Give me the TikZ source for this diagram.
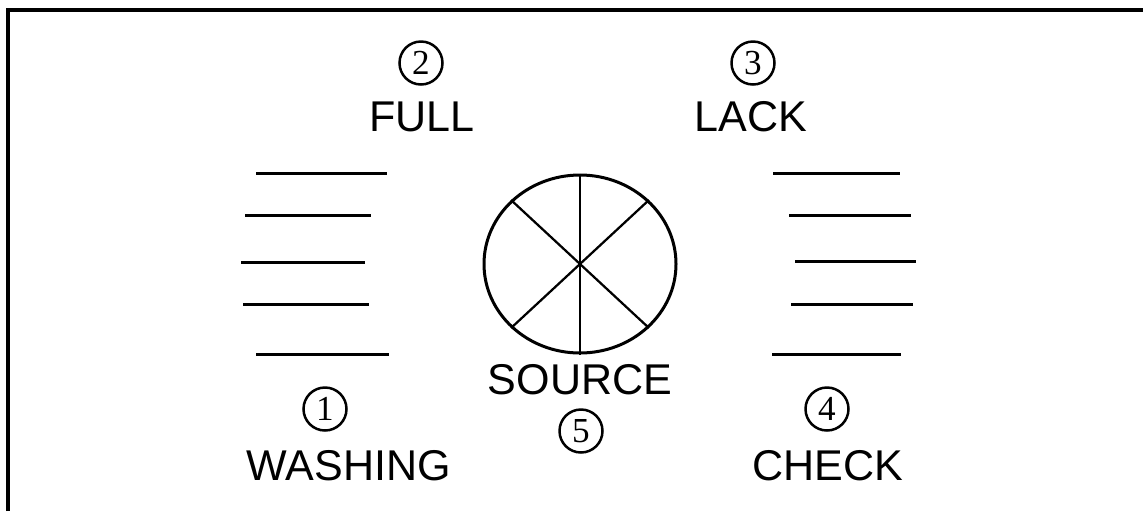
\documentclass[tikz,border=0pt]{standalone}
\usepackage{fontspec}
\setmainfont{Liberation Sans}
\newfontfamily\digitfont{Liberation Serif}
\usetikzlibrary{shapes.geometric}

\begin{document}
\begin{tikzpicture}[x=0.2mm, y=-0.2mm, word/.style={font=\fontsize{24.5}{29}\selectfont,inner sep=0pt}, num/.style={draw,circle,line width=0.5mm,minimum size=8.6mm,inner sep=0pt,font=\digitfont\fontsize{20}{24}\selectfont}, bar/.style={line width=0.6mm}]
\useasboundingbox (0,0) rectangle (1143,511);
\draw[line width=0.8mm] (8,511) -- (8,10) -- (1143,10);
% labels
\node[word] (full) at (422,117) {FULL};
\node[num] (n2) at (421,63) {2};
\node[word] (lack) at (751,117) {LACK};
\node[num] (n3) at (753,63) {3};
\node[word] (wash) at (349,466) {WASHING};
\node[num] (n1) at (325,409) {1};
\node[word] (srctext) at (580,380) {SOURCE};
\node[num] (n5) at (581,431) {5};
\node[word] (check) at (828,466) {CHECK};
\node[num] (n4) at (827,409) {4};
% source wheel
\node[draw,ellipse,line width=0.6mm,minimum width=38.4mm,minimum height=35.6mm,inner sep=0pt] (src) at (580,264) {};
\draw[line width=0.45mm] (src.north) -- (src.south);
\draw[line width=0.45mm] (src.north west) -- (src.south east);
\draw[line width=0.45mm] (src.north east) -- (src.south west);
% left bars
\draw[bar] (256,173) -- (387,173);
\draw[bar] (245,215) -- (371,215);
\draw[bar] (241,262) -- (365,262);
\draw[bar] (243,304) -- (369,304);
\draw[bar] (256,354) -- (389,354);
% right bars
\draw[bar] (773,173) -- (900,173);
\draw[bar] (789,215) -- (911,215);
\draw[bar] (795,261) -- (916,261);
\draw[bar] (791,304) -- (913,304);
\draw[bar] (772,354) -- (901,354);
\end{tikzpicture}
\end{document}
